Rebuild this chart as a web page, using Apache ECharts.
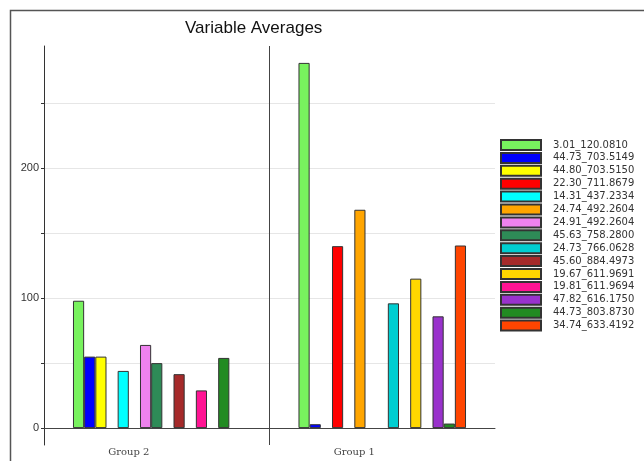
<!DOCTYPE html>
<html>
<head>
<meta charset="utf-8">
<script src="https://cdn.jsdelivr.net/npm/echarts@6/dist/echarts.min.js"></script>
<style>
  html, body { margin: 0; padding: 0; background: #fff; }
  #chart { width: 644px; height: 461px; }
</style>
</head>
<body>
<div id="chart"></div>
<script>
// groups on the x axis
const categories = ['Group 2', 'Group 1']
// one entry per series, legend order
const seriesNames = [
  '3.01_120.0810', '44.73_703.5149', '44.80_703.5150', '22.30_711.8679',
  '14.31_437.2334', '24.74_492.2604', '24.91_492.2604', '45.63_758.2800',
  '24.73_766.0628', '45.60_884.4973', '19.67_611.9691', '19.81_611.9694',
  '47.82_616.1750', '44.73_803.8730', '34.74_633.4192'
]
// averages per series, '-' = no bar in that group
const group2Values = [98, 55, 55, '-', 44, '-', 64, 50, '-', 41.5, '-', 29, '-', 54, '-']
const group1Values = [281, 3, '-', 140, '-', 168, '-', '-', 96, '-', 115, '-', 86, 3.5, 140.5]
const yTicks = [0, 50, 100, 150, 200, 250]
const yLabels = [0, 100, 200]

const colors = [
  '#78f25e', '#0000ff', '#ffff00', '#ff0000', '#00ffff', '#ffa500', '#ee82ee',
  '#2e8b57', '#00ced1', '#a52a2a', '#ffd700', '#ff1493', '#9932cc', '#228b22', '#ff4500'
]

let chart = echarts.init(document.getElementById('chart'))

let series = seriesNames.map((name, i) => ({
  name: name,
  type: 'bar',
  barGap: '0%',
  barCategoryGap: '25.7%',
  itemStyle: {
    color: colors[i],
    borderColor: '#333',
    borderWidth: 1
  },
  data: [group2Values[i], group1Values[i]]
}))

chart.setOption({
  animation: false,
  title: {
    text: 'Variable Averages',
    left: 185,
    top: 20,
    padding: 0,
    textStyle: {
      fontFamily: 'Liberation Sans',
      fontSize: 17,
      fontWeight: 'normal',
      color: '#111'
    }
  },
  legend: {
    orient: 'vertical',
    left: 500,
    top: 139,
    padding: 0,
    itemWidth: 40,
    itemHeight: 10,
    itemGap: 0.9,
    icon: 'rect',
    textStyle: {
      fontFamily: 'DejaVu Sans',
      fontSize: 10,
      padding: [0, 0, 0, 7],
      color: '#333'
    },
    data: seriesNames
  },
  graphic: [
    {
      type: 'rect',
      shape: { x: 10.5, y: 10.5, width: 700, height: 500 },
      style: { fill: 'none', stroke: '#555', lineWidth: 1.5 },
      silent: true
    }
  ],
  grid: {
    left: 44,
    right: 149,
    top: 46,
    bottom: 16,
    outerBoundsMode: 'none'
  },
  xAxis: [
    {
      // bottom axis: group labels and the group separators
      type: 'category',
      data: categories,
      position: 'bottom',
      axisLine: { show: false, onZero: false },
      axisTick: { show: false },
      axisLabel: {
        margin: 2,
        padding: [0, 56, 0, 0],
        fontFamily: 'DejaVu Serif',
        fontSize: 10,
        color: '#444'
      },
      splitLine: {
        show: true,
        showMaxLine: false,
        lineStyle: { color: '#444', width: 1 }
      }
    },
    {
      // zero line with the small ticks at group centres
      type: 'category',
      data: categories,
      position: 'bottom',
      offset: -17,
      axisLine: { show: true, onZero: false, lineStyle: { color: '#444', width: 1 } },
      axisTick: { alignWithLabel: true, length: 4, lineStyle: { color: '#444' } },
      axisLabel: { show: false },
      splitLine: { show: false }
    }
  ],
  yAxis: {
    type: 'value',
    min: -13,
    max: 294,
    axisLine: { show: true, onZero: false, lineStyle: { color: '#333', width: 1 } },
    axisTick: { show: true, length: 3, customValues: yTicks, lineStyle: { color: '#333' } },
    axisLabel: {
      customValues: yLabels,
      margin: 5,
      fontFamily: 'Liberation Sans',
      fontSize: 11,
      color: '#333'
    },
    splitLine: {
      show: true,
      lineStyle: { color: '#e6e6e6', width: 1 }
    }
  },
  series: series
})
</script>
</body>
</html>
